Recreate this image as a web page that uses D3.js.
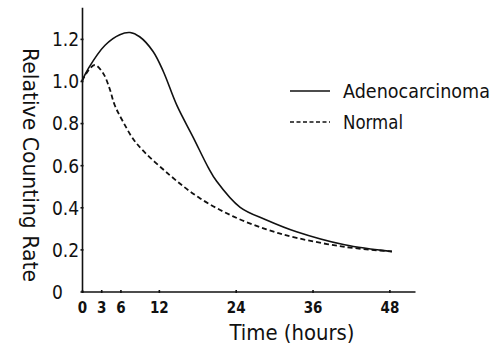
<!DOCTYPE html>
<html>
<head>
<meta charset="utf-8">
<script src="https://cdn.jsdelivr.net/npm/d3@7"></script>
<style>
  body { margin: 0; background: #fff; }
  text { font-family: "DejaVu Sans Condensed", "DejaVu Sans", sans-serif; font-stretch: condensed; fill: #111; }
</style>
</head>
<body>
<div class="chart"></div>
<script>
var svgWidth = 499;
var svgHeight = 348;

// hours and relative counting rate
var adenoHours = [0, 1, 3.6, 5.9, 7.5, 9, 11.1, 12.7, 14.8, 17.4, 19.7, 21, 24.7, 28.8, 33.5, 41, 48.4];
var adenoRate = [1.0, 1.06, 1.17, 1.22, 1.23, 1.21, 1.14, 1.045, 0.885, 0.73, 0.59, 0.525, 0.40, 0.34, 0.284, 0.222, 0.19];

var normalHours = [0, 1, 2, 3.3, 4.3, 5.1, 6.4, 8.5, 13.7, 18.4, 23.6, 28.8, 33.5, 41, 48.4];
var normalRate = [1.0, 1.05, 1.076, 1.037, 0.965, 0.886, 0.807, 0.704, 0.553, 0.443, 0.357, 0.295, 0.255, 0.212, 0.19];

var xTicks = [0, 3, 6, 12, 24, 36, 48];
var yTicks = [0, 0.2, 0.4, 0.6, 0.8, 1.0, 1.2];
var legendNames = ["Adenocarcinoma", "Normal"];

var svg = d3.select(".chart")
  .append("svg")
  .attr("width", svgWidth)
  .attr("height", svgHeight);

var xScale = d3.scaleLinear().domain([0, 52]).range([82, 415]);
var yScale = d3.scaleLinear().domain([0, 1.35]).range([291.5, 7.3]);

// axes
var bottomAxis = d3.axisBottom(xScale)
  .tickValues(xTicks)
  .tickSizeInner(3)
  .tickSizeOuter(0)
  .tickFormat(d3.format("d"));
var leftAxis = d3.axisLeft(yScale)
  .tickValues(yTicks)
  .tickSizeInner(3)
  .tickSizeOuter(0)
  .tickFormat(d => d === 0 ? "0" : d3.format(".1f")(d));

var xAxis = svg.append("g")
  .attr("transform", `translate(0, ${yScale(0)})`)
  .call(bottomAxis);
xAxis.select(".domain").attr("stroke", "#111").attr("stroke-width", 1.6);
xAxis.selectAll(".tick line").attr("stroke", "#111").attr("stroke-width", 1.6).attr("y1", -1.5).attr("y2", 1.5);
xAxis.selectAll(".tick text")
  .attr("y", 21).attr("dy", 0)
  .attr("font-size", "15px")
  .attr("font-weight", "bold");

var yAxis = svg.append("g")
  .attr("transform", `translate(${xScale(0)}, 0)`)
  .call(leftAxis);
yAxis.select(".domain").attr("stroke", "#111").attr("stroke-width", 1.6);
yAxis.selectAll(".tick line").attr("stroke", "#111").attr("stroke-width", 1.6).attr("x1", -1.5).attr("x2", 1.5);
yAxis.selectAll(".tick text")
  .attr("x", -30).attr("dy", "0.36em")
  .attr("text-anchor", "start")
  .attr("font-size", "19px");

// curves
var line = d3.line()
  .x(d => xScale(d[0]))
  .y(d => yScale(d[1]))
  .curve(d3.curveCatmullRom.alpha(0.5));

svg.append("path")
  .datum(d3.zip(adenoHours, adenoRate))
  .attr("fill", "none")
  .attr("stroke", "#111")
  .attr("stroke-width", 1.6)
  .attr("d", line);

svg.append("path")
  .datum(d3.zip(normalHours, normalRate))
  .attr("fill", "none")
  .attr("stroke", "#111")
  .attr("stroke-width", 1.8)
  .attr("stroke-dasharray", "5,3")
  .attr("d", line);

// axis titles
svg.append("text")
  .attr("transform", "translate(31, 165) rotate(90)")
  .attr("text-anchor", "middle")
  .attr("dy", "0.35em")
  .attr("font-size", "22px")
  .attr("textLength", 234)
  .attr("lengthAdjust", "spacingAndGlyphs")
  .text("Relative Counting Rate");

svg.append("text")
  .attr("x", 292)
  .attr("y", 340)
  .attr("text-anchor", "middle")
  .attr("font-size", "22px")
  .attr("textLength", 125)
  .attr("lengthAdjust", "spacingAndGlyphs")
  .text("Time (hours)");

// legend
var legend = svg.append("g");
legendNames.forEach(function(name, i) {
  var y = 91 + i * 31;
  legend.append("line")
    .attr("x1", 290).attr("x2", 330)
    .attr("y1", y).attr("y2", y)
    .attr("stroke", "#111")
    .attr("stroke-width", 1.6)
    .attr("stroke-dasharray", i === 1 ? "4,2.5" : null);
  legend.append("text")
    .attr("x", 343)
    .attr("y", y)
    .attr("dy", "0.35em")
    .attr("font-size", "20px")
    .attr("textLength", i === 0 ? 147 : 60)
    .attr("lengthAdjust", "spacingAndGlyphs")
    .text(name);
});
</script>
</body>
</html>
